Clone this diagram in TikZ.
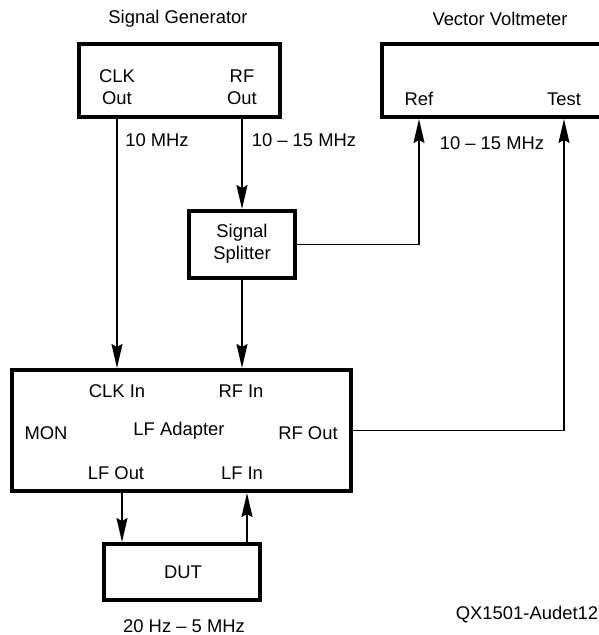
\documentclass[tikz,border=0pt]{standalone}
\usepackage{fontspec}
\setmainfont{Liberation Sans}
\usetikzlibrary{arrows.meta}
\begin{document}
\begin{tikzpicture}[x=1pt, y=-1pt]
	\tikzstyle{unit}  = [draw=black, line width=4pt, inner sep=0pt, fill=white]
	\tikzstyle{lbl}   = [inner sep=0pt, align=center, font=\fontsize{18.4}{22}\selectfont]
	\tikzstyle{wire}  = [line width=1.8pt, -{Stealth[length=24pt, width=11pt, inset=3pt]}]
	\tikzstyle{plain} = [line width=1.8pt]

	\useasboundingbox (0,0) rectangle (599,635);
	\clip (0,0) rectangle (599,635);

	% boxes
	\node[unit, minimum width=201pt, minimum height=73pt]  (gen)     at (179.5,80.5) {};
	\node[unit, minimum width=258pt, minimum height=73pt]  (vv)      at (511,80.5)   {};
	\node[unit, minimum width=106pt, minimum height=67pt]  (split)   at (242,244.5)  {};
	\node[unit, minimum width=339pt, minimum height=121pt] (adapter) at (181.5,430.5) {};
	\node[unit, minimum width=156pt, minimum height=56pt]  (dut)     at (182,572)    {};

	% texts
	\foreach \name/\x/\y/\txt in {gentitle/178/19/Signal Generator, vvtitle/500/19/Vector Voltmeter,
			clkout/117/87/CLK\\Out, rfout/242/87/RF\\Out, ref/419/99/Ref, test/564/99/Test,
			splittxt/242/244/Signal\\Splitter, clkin/117/391/CLK In, rfin/241/391/RF In,
			mon/46/433/MON, lfadapter/179/431/LF Adapter, rfoutb/308/433/RF Out,
			lfout/116/473/LF Out, lfin/242/473/LF In, duttxt/183/572/DUT,
			fclk/157/140/10 MHz, frf/304/140/10 -- 15 MHz, fvv/492/143/10 -- 15 MHz,
			flf/184/626/20 Hz -- 5 MHz, figid/527/615/QX1501-Audet12}
		\node[lbl] (\name) at (\x, \y) {\txt};

	% connectors
	\draw[wire] (gen.south -| clkout) -- (adapter.north -| clkout);
	\draw[wire] (gen.south -| rfout) -- (split.north);
	\draw[wire] (split.south) -- (split.south |- adapter.north);
	\draw[wire] (split.east) -| (vv.south -| ref);
	\draw[wire] (adapter.east) -| (vv.south -| test);
	\draw[wire] ([xshift=6pt]adapter.south -| lfout) -- ([xshift=6pt]dut.north -| lfout);
	\draw[wire] ([xshift=5pt]dut.north -| lfin) -- ([xshift=5pt]adapter.south -| lfin);
\end{tikzpicture}
\end{document}
